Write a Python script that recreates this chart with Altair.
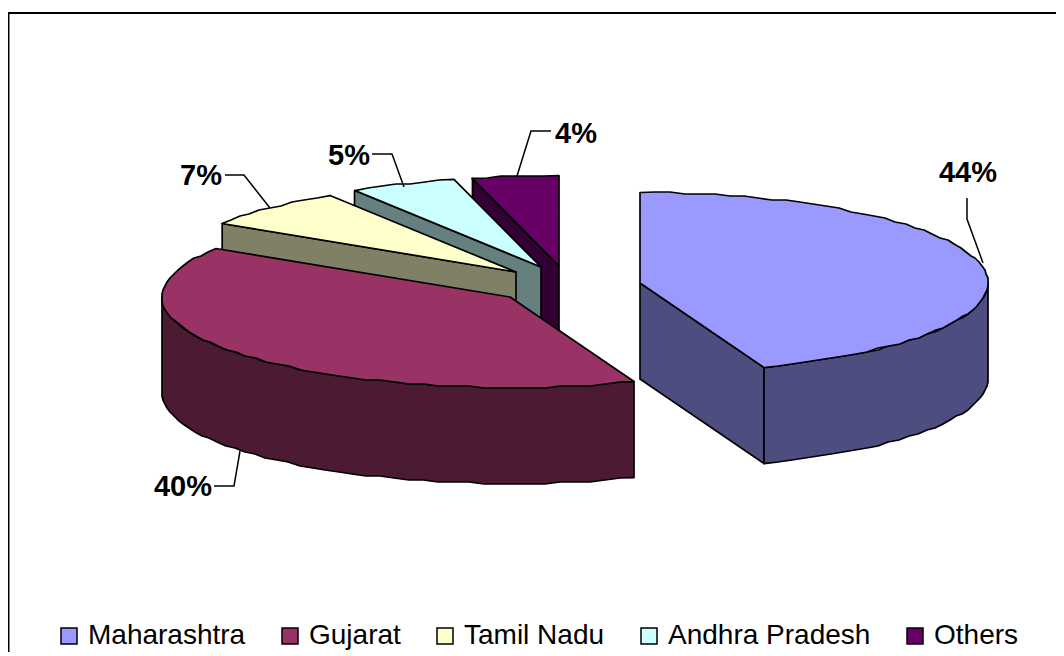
import math
import altair as alt
import pandas as pd

# Chart values
states = ["Maharashtra", "Gujarat", "Tamil Nadu", "Andhra Pradesh", "Others"]
shares = [44.2, 39.8, 7, 5, 4]
top_colors = ["#9999FF", "#993366", "#FFFFCC", "#CCFFFF", "#660066"]
side_colors = ["#4D4D80", "#4D1A33", "#808066", "#668080", "#330033"]

# Exploded 3D pie geometry, in page pixels
slice_cx = [640, 510, 516, 541, 559]
slice_cy = [283, 297, 272, 267, 266]
RX, RY, DEPTH, STEP = 348, 90.5, 96, 2.5
draw_order = [4, 3, 2, 1, 0]

# Leader lines: label, anchor of text, path
label_x = [968, 183, 201, 349, 576]
label_y = [173, 487, 176, 156, 134]
leader_x = [[967, 967, 983], [214, 234, 240], [225, 244, 270], [372, 392, 404], [551, 531, 517]]
leader_y = [[198, 219, 263], [486, 486, 451], [175, 175, 208], [154, 154, 187], [131, 131, 176]]

# Chart frame
frame_x = [8.5, 8.5, 1056]
frame_y = [652, 13, 13]

W, H = 1048, 644
X = alt.X("x:Q", axis=None, scale=alt.Scale(domain=[8, 8 + W], range=[0, W]))
Y = alt.Y("y:Q", axis=None, scale=alt.Scale(domain=[8 + H, 8], range=[H, 0]))


def rim(cx, cy, a0, a1, dy=0.0):
    n = max(1, int(round((a1 - a0) / STEP)))
    pts = []
    for k in range(n + 1):
        a = math.radians(a0 + (a1 - a0) * k / n)
        px = cx + RX * math.sin(a)
        py = cy - RY * math.cos(a) + dy
        pts.append((round(px), 2 * round(py / 2) if 0 < k < n else py))
    return pts


def poly(points, color):
    df = pd.DataFrame(points, columns=["x", "y"])
    df["i"] = range(len(df))
    return alt.Chart(df).mark_line(
        interpolate="linear-closed", fill=color, stroke="black",
        strokeWidth=1.7, strokeJoin="round",
    ).encode(x=X, y=Y, order="i:Q")


layers = []
starts = []
total = 0
for s in shares:
    starts.append(total / sum(shares) * 360)
    total += s

for idx in draw_order:
    cx, cy = slice_cx[idx], slice_cy[idx]
    a0 = starts[idx]
    a1 = a0 + shares[idx] / sum(shares) * 360
    side, top = side_colors[idx], top_colors[idx]
    for ang, visible in ((a0, math.sin(math.radians(a0)) < -1e-6), (a1, math.sin(math.radians(a1)) > 1e-6)):
        if visible:
            r = math.radians(ang)
            ex, ey = cx + RX * math.sin(r), cy - RY * math.cos(r)
            layers.append(poly([(cx, cy), (ex, ey), (ex, ey + DEPTH), (cx, cy + DEPTH)], side))
    lo, hi = max(a0, 90), min(a1, 270)
    if lo < hi:
        upper = rim(cx, cy, lo, hi)
        lower = rim(cx, cy, lo, hi, DEPTH)
        layers.append(poly(upper + lower[::-1], side))
    layers.append(poly([(cx, cy)] + rim(cx, cy, a0, a1), top))

for lx, ly in zip(leader_x, leader_y):
    df = pd.DataFrame({"x": lx, "y": ly, "i": range(len(lx))})
    layers.append(alt.Chart(df).mark_line(color="black", strokeWidth=1.5).encode(x=X, y=Y, order="i:Q"))

labels = pd.DataFrame({"x": label_x, "y": label_y, "t": [f"{round(s)}%" for s in shares]})
layers.append(alt.Chart(labels).mark_text(
    font="Liberation Sans", fontSize=29, fontWeight="bold", color="black", baseline="middle", align="center"
).encode(x=X, y=Y, text="t:N"))

frame = pd.DataFrame({"x": frame_x, "y": frame_y, "i": range(len(frame_x))})
layers.append(alt.Chart(frame).mark_line(color="black", strokeWidth=2).encode(x=X, y=Y, order="i:Q"))

legend_df = pd.DataFrame({"state": states, "x": slice_cx, "y": slice_cy})
layers.append(alt.Chart(legend_df).mark_square(size=0).encode(
    x=X, y=Y,
    color=alt.Color(
        "state:N",
        scale=alt.Scale(domain=states, range=top_colors),
        sort=states,
        legend=alt.Legend(
            orient="none", legendX=47, legendY=614, direction="horizontal", title=None,
            symbolType="square", symbolSize=256, symbolStrokeColor="black", symbolStrokeWidth=1.5,
            symbolOpacity=1, labelFont="Liberation Sans", labelFontSize=28, labelColor="black",
            labelOffset=5, columnPadding=30, labelLimit=400,
        ),
    ),
))

chart = alt.layer(*layers).properties(
    width=W, height=H, padding=0, background="white",
    autosize=alt.AutoSizeParams(type="none"),
).configure_view(stroke=None)

chart.save("out.html", embed_options={"renderer": "svg", "actions": False})
